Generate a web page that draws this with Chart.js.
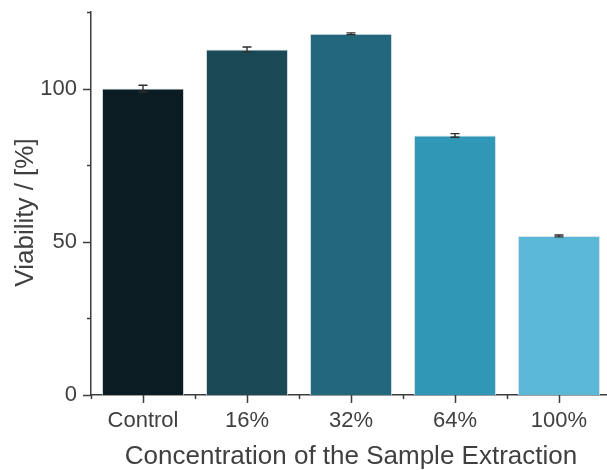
<!DOCTYPE html>
<html>
<head>
<meta charset="utf-8">
<script src="https://cdn.jsdelivr.net/npm/chart.js@4"></script>
<style>
  html, body { margin: 0; padding: 0; background: #fff; overflow: hidden; }
  #wrap { width: 612px; height: 470px; }
</style>
</head>
<body>
<div id="wrap"><canvas id="viabilityChart"></canvas></div>
<script>
const categories = ['Control', '16%', '32%', '64%', '100%'];
const viability = [100, 112.8, 117.9, 84.7, 51.9];
const viabilityErr = [1.1, 0.8, 0.3, 0.6, 0.3];
const yMajorTicks = [0, 50, 100];
const yMinorTicks = [25, 75, 125];
const yTitle = 'Viability / [%]';
const xTitle = 'Concentration of the Sample Extraction';

const barColors = ['#0b1c22', '#1a4855', '#22677b', '#3097b7', '#5ab8d6'];
const axisColor = '#3d3d3d';
const textColor = '#404040';
const fontFamily = "'Liberation Sans', Arial, Helvetica, sans-serif";

// error bars, hand-drawn major/minor ticks and the y title (sits a bit below centre)
const extrasPlugin = {
    id: 'extras',
    afterDatasetsDraw(chart) {
        const ctx = chart.ctx;
        const x = chart.scales.x;
        const y = chart.scales.y;
        ctx.save();
        ctx.strokeStyle = '#2e2e2e';
        ctx.lineWidth = 1.4;
        viability.forEach((v, i) => {
            const cx = x.getPixelForValue(i);
            const top = y.getPixelForValue(v + viabilityErr[i]);
            const bot = y.getPixelForValue(v - viabilityErr[i]);
            ctx.beginPath();
            ctx.moveTo(cx, top); ctx.lineTo(cx, bot);
            ctx.moveTo(cx - 4.5, top); ctx.lineTo(cx + 4.5, top);
            ctx.moveTo(cx - 4.5, bot); ctx.lineTo(cx + 4.5, bot);
            ctx.stroke();
        });
        ctx.restore();
    },
    afterDraw(chart) {
        const ctx = chart.ctx;
        const x = chart.scales.x;
        const y = chart.scales.y;
        const area = chart.chartArea;
        ctx.save();
        ctx.strokeStyle = axisColor;
        ctx.lineWidth = 1.5;
        ctx.beginPath();
        yMajorTicks.forEach(t => {
            const py = Math.round(y.getPixelForValue(t)) + 0.5;
            ctx.moveTo(area.left - 8, py); ctx.lineTo(area.left, py);
        });
        yMinorTicks.forEach(t => {
            const py = Math.round(y.getPixelForValue(t)) + 0.5;
            ctx.moveTo(area.left - 4, py); ctx.lineTo(area.left, py);
        });
        const step = x.width / categories.length;
        categories.forEach((c, i) => {
            const px = Math.round(x.getPixelForValue(i)) + 0.5;
            ctx.moveTo(px, area.bottom); ctx.lineTo(px, area.bottom + 8);
        });
        for (let i = 0; i <= categories.length; i++) {
            const px = Math.round(x.left + i * step) + 0.5;
            ctx.moveTo(px, area.bottom); ctx.lineTo(px, area.bottom + 4);
        }
        ctx.stroke();

        ctx.translate(33, (area.top + area.bottom) / 2 + 9);
        ctx.rotate(-Math.PI / 2);
        ctx.fillStyle = textColor;
        ctx.font = '26px ' + fontFamily;
        ctx.textAlign = 'center';
        ctx.textBaseline = 'alphabetic';
        ctx.fillText(yTitle, 0, 0);
        ctx.restore();
    }
};

const config = {
    type: 'bar',
    data: {
        labels: categories,
        datasets: [{
            label: 'Viability',
            data: viability,
            backgroundColor: barColors,
            borderColor: 'rgba(215, 225, 230, 0.9)',
            borderWidth: 1,
            borderSkipped: 'bottom',
            barPercentage: 0.79,
            categoryPercentage: 1.0
        }]
    },
    options: {
        responsive: true,
        maintainAspectRatio: false,
        animation: false,
        layout: { padding: { top: 12, right: 1, bottom: 0, left: 0 } },
        plugins: {
            legend: { display: false },
            tooltip: { enabled: false }
        },
        scales: {
            x: {
                grid: { display: false, drawTicks: false },
                border: { display: true, color: axisColor, width: 1.5 },
                ticks: {
                    color: textColor,
                    padding: 13,
                    font: { family: fontFamily, size: 22 }
                },
                title: {
                    display: true,
                    text: xTitle,
                    color: textColor,
                    font: { family: fontFamily, size: 26, lineHeight: 1.0 },
                    padding: { top: 0, bottom: 0 }
                },
                afterFit(scale) {
                    scale.height = 75;
                    scale.paddingLeft = 0;
                    scale.paddingRight = 0;
                }
            },
            y: {
                min: 0,
                max: 125,
                grid: { display: false, drawTicks: false },
                border: { display: true, color: axisColor, width: 1.5 },
                ticks: {
                    stepSize: 25,
                    color: textColor,
                    padding: 14,
                    font: { family: fontFamily, size: 22 },
                    callback: v => (yMajorTicks.includes(v) ? v : '')
                },
                title: { display: false },
                afterFit(scale) {
                    scale.width = 91;
                    scale.paddingTop = 0;
                    scale.paddingBottom = 0;
                }
            }
        }
    },
    plugins: [extrasPlugin]
};

new Chart(document.querySelector('#viabilityChart'), config);
</script>
</body>
</html>
